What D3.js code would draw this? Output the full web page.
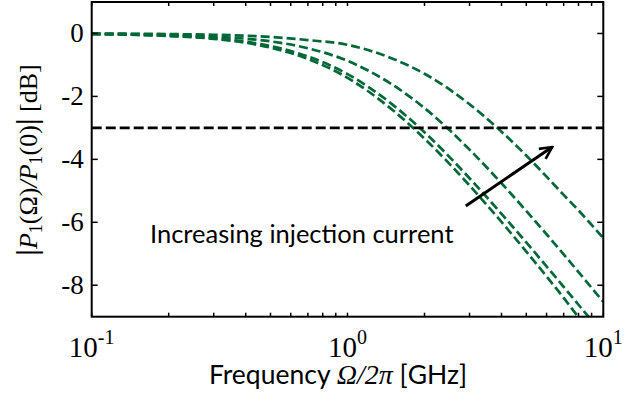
<!DOCTYPE html>
<html>
<head>
<meta charset="utf-8">
<script src="https://cdn.jsdelivr.net/npm/d3@7"></script>
<style>
  html, body { margin: 0; padding: 0; background: #fff; }
  svg { display: block; }
</style>
</head>
<body>
<svg id="chart" width="642" height="406"></svg>
<script>
// Modulation frequency samples [GHz]
const freqs = [0.1, 0.2, 0.3, 0.5, 0.7, 1, 1.5, 2, 3, 4, 5, 6, 7, 8, 9, 10];

// Normalised response |P1(Ω)/P1(0)| in dB, one series per injection current (low → high)
const responseLow1 = [-0.02, -0.08, -0.17, -0.45, -0.81, -1.41, -2.43, -3.34, -4.83, -5.99, -6.93, -7.72, -8.40, -9.02, -9.55, -10.0];
const responseLow2 = [-0.02, -0.07, -0.15, -0.40, -0.73, -1.29, -2.26, -3.14, -4.60, -5.73, -6.64, -7.40, -8.05, -8.62, -9.12, -9.57];
const responseMid  = [-0.01, -0.04, -0.10, -0.25, -0.47, -0.87, -1.63, -2.37, -3.69, -4.76, -5.64, -6.38, -7.02, -7.58, -8.08, -8.53];
const responseHigh = [ 0.00, -0.02, -0.04, -0.11, -0.21, -0.36, -0.80, -1.28, -2.25, -3.12, -3.88, -4.55, -5.13, -5.62, -6.08, -6.50];
const seriesList = [responseLow1, responseLow2, responseMid, responseHigh];

// -3 dB reference level
const cutoffLevel = -3;

// Axis ticks
const yTicks = [0, -2, -4, -6, -8];
const xMajorTicks = [0.1, 1, 10];
const xMajorExponents = ["-1", "0", "1"];
const xMinorTicks = [0.2, 0.3, 0.4, 0.5, 0.6, 0.7, 0.8, 0.9, 2, 3, 4, 5, 6, 7, 8, 9];

// Annotation: arrow (tail → head) and caption
const arrowTail = { f: 2.90, db: -5.48 };
const arrowHead = { f: 6.31, db: -3.61 };
const caption = { f: 0.169, db: -6.66, text: "Increasing injection current" };

const svg = d3.select("#chart");
const plot = { left: 91.7, right: 603.3, top: 2, bottom: 316.7 };

const x = d3.scaleLog().domain([0.1, 10]).range([plot.left, plot.right]);
const y = d3.scaleLinear().domain([-9, 1]).range([plot.bottom, plot.top]);

const green = "#006837";

svg.append("defs").append("clipPath").attr("id", "plotClip")
  .append("rect")
  .attr("x", plot.left).attr("y", plot.top)
  .attr("width", plot.right - plot.left).attr("height", plot.bottom - plot.top);

// Response curves
const line = d3.line()
  .x((d, i) => x(freqs[i]))
  .y(d => y(d))
  .curve(d3.curveMonotoneX);

const curves = svg.append("g").attr("clip-path", "url(#plotClip)");
seriesList.forEach(s => {
  curves.append("path")
    .attr("d", line(s))
    .attr("fill", "none")
    .attr("stroke", green)
    .attr("stroke-width", 2.7)
    .attr("stroke-dasharray", "9,4");
});

// -3 dB line
curves.append("line")
  .attr("x1", plot.left).attr("x2", plot.right)
  .attr("y1", y(cutoffLevel)).attr("y2", y(cutoffLevel))
  .attr("stroke", "#000")
  .attr("stroke-width", 2.6)
  .attr("stroke-dasharray", "10,4");

// Frame and ticks
const axes = svg.append("g");
axes.append("rect")
  .attr("x", plot.left).attr("y", plot.top)
  .attr("width", plot.right - plot.left).attr("height", plot.bottom - plot.top)
  .attr("fill", "none").attr("stroke", "#000").attr("stroke-width", 2);

const yTickLen = 6, xTickLen = 4;
yTicks.forEach(t => {
  axes.append("line").attr("x1", plot.left).attr("x2", plot.left + yTickLen)
    .attr("y1", y(t)).attr("y2", y(t)).attr("stroke", "#000").attr("stroke-width", 1.5);
  axes.append("line").attr("x1", plot.right).attr("x2", plot.right - yTickLen)
    .attr("y1", y(t)).attr("y2", y(t)).attr("stroke", "#000").attr("stroke-width", 1.5);
});
xMinorTicks.concat(xMajorTicks).forEach(t => {
  axes.append("line").attr("x1", x(t)).attr("x2", x(t))
    .attr("y1", plot.bottom).attr("y2", plot.bottom - xTickLen).attr("stroke", "#000").attr("stroke-width", 1.5);
  axes.append("line").attr("x1", x(t)).attr("x2", x(t))
    .attr("y1", plot.top).attr("y2", plot.top + xTickLen).attr("stroke", "#000").attr("stroke-width", 1.5);
});

// Y tick labels
const serif = "'Liberation Serif', 'Times New Roman', serif";
yTicks.forEach(t => {
  axes.append("text")
    .attr("x", plot.left - 8).attr("y", y(t) + 9)
    .attr("text-anchor", "end")
    .attr("font-family", serif).attr("font-size", 27)
    .text(String(t));
});

// X tick labels as powers of ten
xMajorTicks.forEach((t, i) => {
  const lbl = axes.append("text")
    .attr("x", x(t)).attr("y", 357)
    .attr("text-anchor", "middle")
    .attr("font-family", serif).attr("font-size", 29);
  lbl.append("tspan").text("10");
  lbl.append("tspan").attr("dy", -13).attr("font-size", 20).text(xMajorExponents[i]);
});

// Axis titles
const sans = "Lato, 'Open Sans', sans-serif";
const xt = svg.append("text")
  .attr("x", 338).attr("y", 384)
  .attr("text-anchor", "middle")
  .attr("font-family", sans).attr("font-size", 26.5);
xt.append("tspan").text("Frequency ");
xt.append("tspan").attr("font-family", serif).attr("font-style", "italic").attr("font-size", 28).text("Ω/2π");
xt.append("tspan").text(" [GHz]");

const yt = svg.append("text")
  .attr("transform", "translate(37,160) rotate(-90)")
  .attr("text-anchor", "middle")
  .attr("font-family", serif).attr("font-size", 26);
yt.append("tspan").attr("font-weight", "bold").attr("font-size", 30).text("|");
yt.append("tspan").attr("font-style", "italic").text("P");
yt.append("tspan").attr("font-size", 18).attr("dy", 5).text("1");
yt.append("tspan").attr("dy", -5).text("(Ω)");
yt.append("tspan").attr("font-style", "italic").text("/");
yt.append("tspan").attr("font-style", "italic").text("P");
yt.append("tspan").attr("font-size", 18).attr("dy", 5).text("1");
yt.append("tspan").attr("dy", -5).text("(0)");
yt.append("tspan").attr("font-weight", "bold").attr("font-size", 30).text("|");
yt.append("tspan").text(" [dB]");

// Annotation
svg.append("defs").append("marker")
  .attr("id", "arrowHead")
  .attr("viewBox", "0 0 16 16")
  .attr("refX", 14).attr("refY", 8)
  .attr("markerWidth", 16).attr("markerHeight", 16)
  .attr("markerUnits", "userSpaceOnUse")
  .attr("orient", "auto")
  .append("path")
  .attr("d", "M2,2 L14,8 L2,14")
  .attr("fill", "none").attr("stroke", "#000").attr("stroke-width", 2.6);

const ax1 = x(arrowTail.f), ay1 = y(arrowTail.db), ax2 = x(arrowHead.f), ay2 = y(arrowHead.db);
svg.append("line")
  .attr("x1", ax1).attr("y1", ay1).attr("x2", ax2).attr("y2", ay2)
  .attr("stroke", "#000").attr("stroke-width", 3)
  .attr("marker-end", "url(#arrowHead)");

svg.append("text")
  .attr("x", x(caption.f)).attr("y", y(caption.db))
  .attr("font-family", sans).attr("font-size", 25.5)
  .text(caption.text);
</script>
</body>
</html>
